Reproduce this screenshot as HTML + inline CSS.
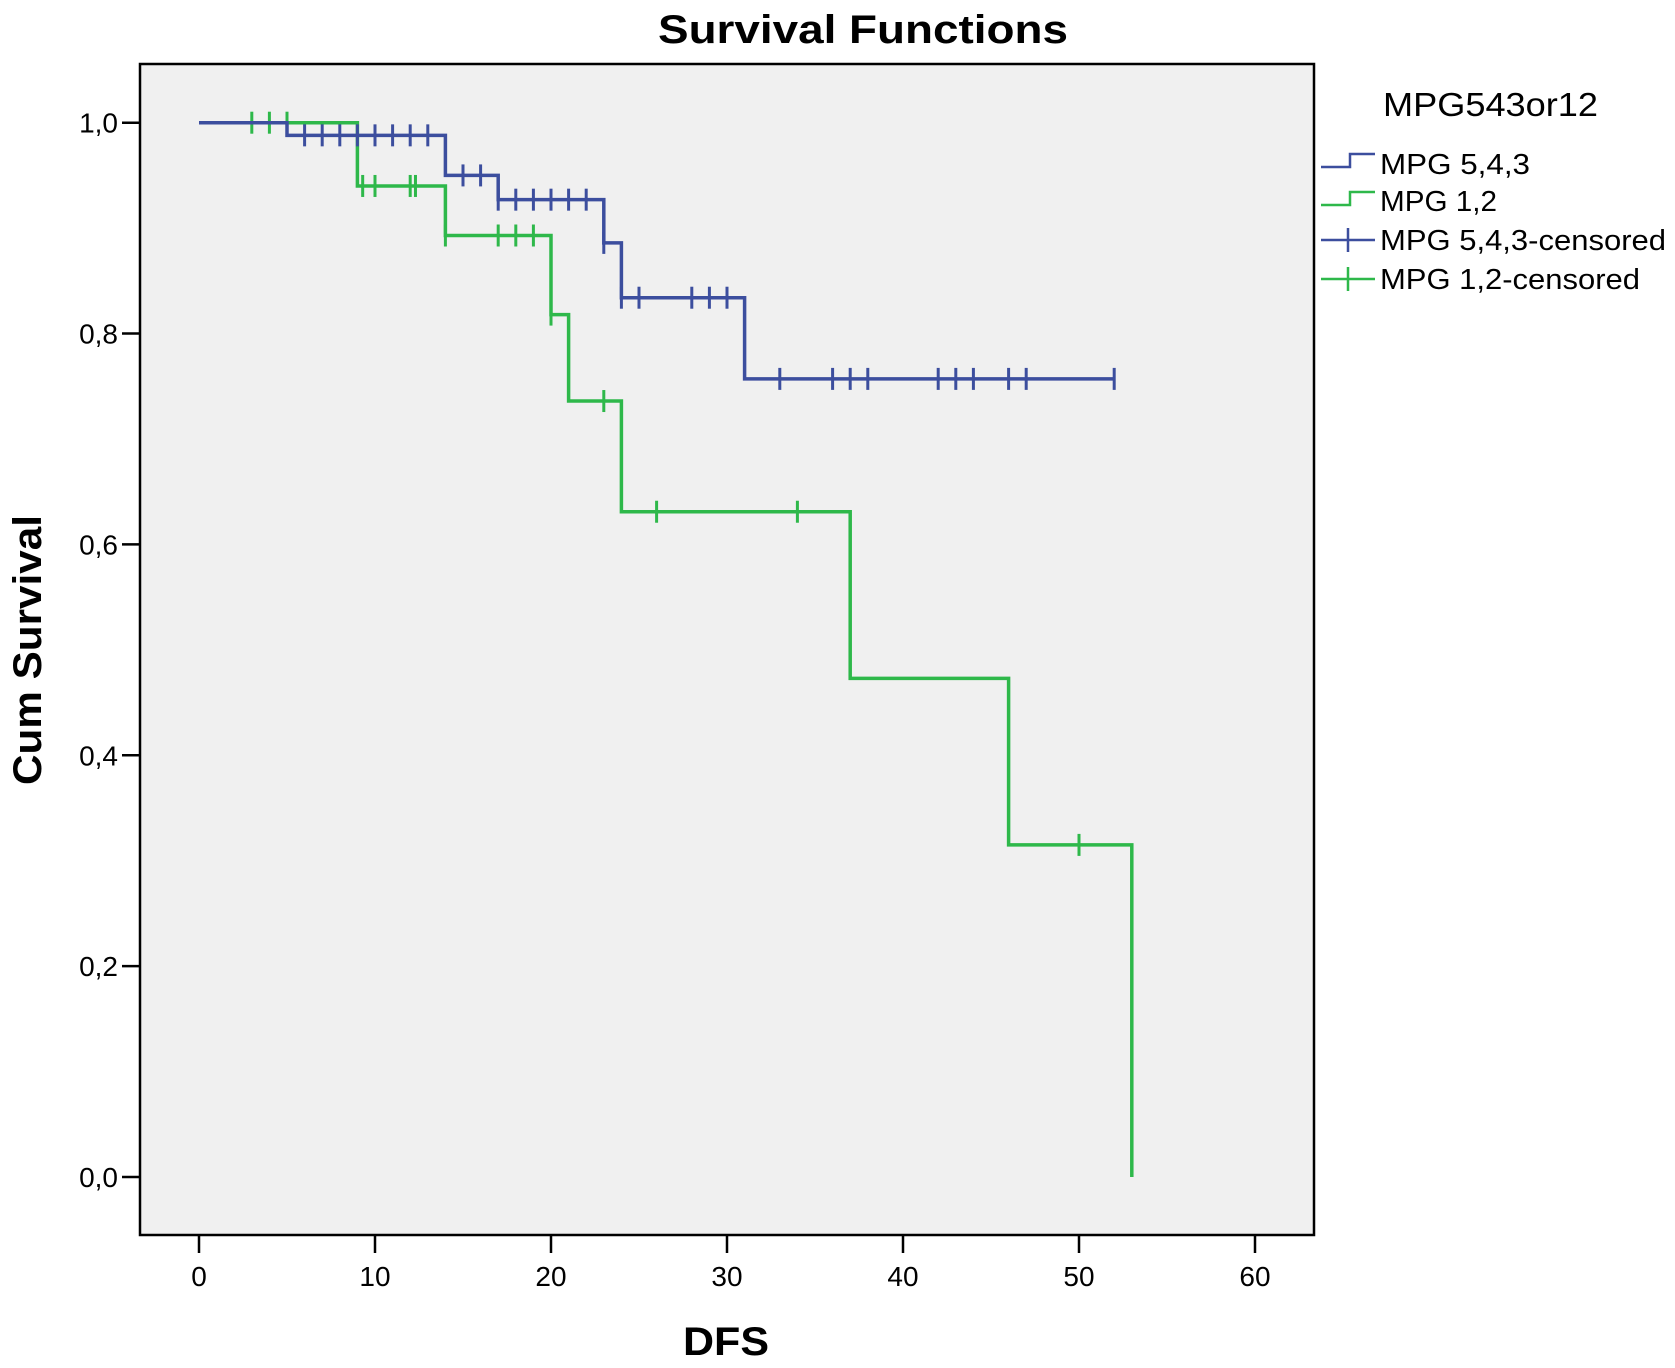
<!DOCTYPE html>
<html><head><meta charset="utf-8"><style>
html,body{margin:0;padding:0;background:#fff;}
svg{display:block;font-family:"Liberation Sans",sans-serif;}
</style></head><body>
<svg id="chart" width="1675" height="1368" viewBox="0 0 1675 1368">
<rect x="140" y="64" width="1174" height="1171" fill="#f0f0f0" stroke="#000" stroke-width="2.5"/>
<text x="863" y="43" text-anchor="middle" font-size="40" font-weight="bold" textLength="410" lengthAdjust="spacingAndGlyphs">Survival Functions</text>
<text x="726" y="1355" text-anchor="middle" font-size="40" font-weight="bold" textLength="86" lengthAdjust="spacingAndGlyphs">DFS</text>
<text transform="translate(41,650) rotate(-90)" text-anchor="middle" font-size="40" font-weight="bold" textLength="270" lengthAdjust="spacingAndGlyphs">Cum Survival</text>
<g id="axes"></g>
<g id="series"></g>
<g font-size="29">
<text x="1383" y="116" font-size="33" textLength="215" lengthAdjust="spacingAndGlyphs">MPG543or12</text>
<g>
<path d="M1321,167 H1350 V154 H1375" fill="none" stroke="#3c4e9e" stroke-width="2.5"/>
<text x="1380" y="174" textLength="150" lengthAdjust="spacingAndGlyphs">MPG 5,4,3</text></g>
<g>
<path d="M1321,205 H1350 V192 H1375" fill="none" stroke="#2eb84a" stroke-width="2.5"/>
<text x="1380" y="211" textLength="117" lengthAdjust="spacingAndGlyphs">MPG 1,2</text></g>
<g>
<path d="M1321,240 H1375 M1348,228 V252" fill="none" stroke="#3c4e9e" stroke-width="2.5"/>
<text x="1380" y="250" textLength="286" lengthAdjust="spacingAndGlyphs">MPG 5,4,3-censored</text></g>
<g>
<path d="M1321,279 H1375 M1348,267 V291" fill="none" stroke="#2eb84a" stroke-width="2.5"/>
<text x="1380" y="289" textLength="260" lengthAdjust="spacingAndGlyphs">MPG 1,2-censored</text></g>
</g>
</svg>
<script>
const xTicks=[0,10,20,30,40,50,60];
const yTicks=[0,0.2,0.4,0.6,0.8,1.0];
const yTickLabels=["0,0","0,2","0,4","0,6","0,8","1,0"];
const blueTimes=[5,14,17,23,24,31];
const blueSurv=[0.988,0.950,0.927,0.886,0.834,0.757];
const blueEnd=52;
const blueCensT=[6,7,8,9,10,11,12,13,15,16,17,18,19,20,21,22,23,24,25,28,29,30,33,36,37,38,42,43,44,46,47,52];
const greenTimes=[9,14,20,21,24,37,46,53];
const greenSurv=[0.940,0.893,0.818,0.736,0.631,0.473,0.315,0.0];
const greenEnd=53;
const greenCensT=[3,4,5,9.3,10,12,12.3,14,17,18,19,20,23,26,34,50];

const NS="http://www.w3.org/2000/svg";
const X=v=>199+v*17.6;
const Y=v=>1177-v*1054.3;
function mk(tag,attrs,parent){const e=document.createElementNS(NS,tag);for(const k in attrs)e.setAttribute(k,attrs[k]);parent.appendChild(e);return e;}
const axes=document.getElementById('axes');
xTicks.forEach((t,i)=>{
  const l=mk('line',{x1:X(t),x2:X(t),y1:1235,y2:1253,stroke:'#000','stroke-width':2.5},axes);
  
  
  const tx=mk('text',{x:X(t),y:1286,'text-anchor':'middle','font-size':28},axes);
  tx.textContent=String(t);
  
  
});
yTicks.forEach((t,i)=>{
  const l=mk('line',{x1:122,x2:140,y1:Y(t),y2:Y(t),stroke:'#000','stroke-width':2.5},axes);
  
  
  const tx=mk('text',{x:118,y:Y(t)+10,'text-anchor':'end','font-size':28},axes);
  tx.textContent=yTickLabels[i];
  
  
});
const ser=document.getElementById('series');
function survAt(times,surv,t){let s=1;for(let i=0;i<times.length;i++){if(times[i]<=t)s=surv[i];}return s;}
function draw(times,surv,end,cens,color,name){
  let d='M'+X(0)+','+Y(1);
  for(let i=0;i<times.length;i++){d+=' H'+X(times[i])+' V'+Y(surv[i]);}
  d+=' H'+X(end);
  const p=mk('path',{d:d,fill:'none',stroke:color,'stroke-width':3.5},ser);
  
  
  cens.forEach(t=>{
    const v=survAt(times,surv,t);
    const c=mk('line',{x1:X(t),x2:X(t),y1:Y(v)-11,y2:Y(v)+11,stroke:color,'stroke-width':3},ser);
    
    
  });
}
draw(greenTimes,greenSurv,greenEnd,greenCensT,'#2eb84a','mpg12');
draw(blueTimes,blueSurv,blueEnd,blueCensT,'#3c4e9e','mpg543');
</script>
</body></html>
